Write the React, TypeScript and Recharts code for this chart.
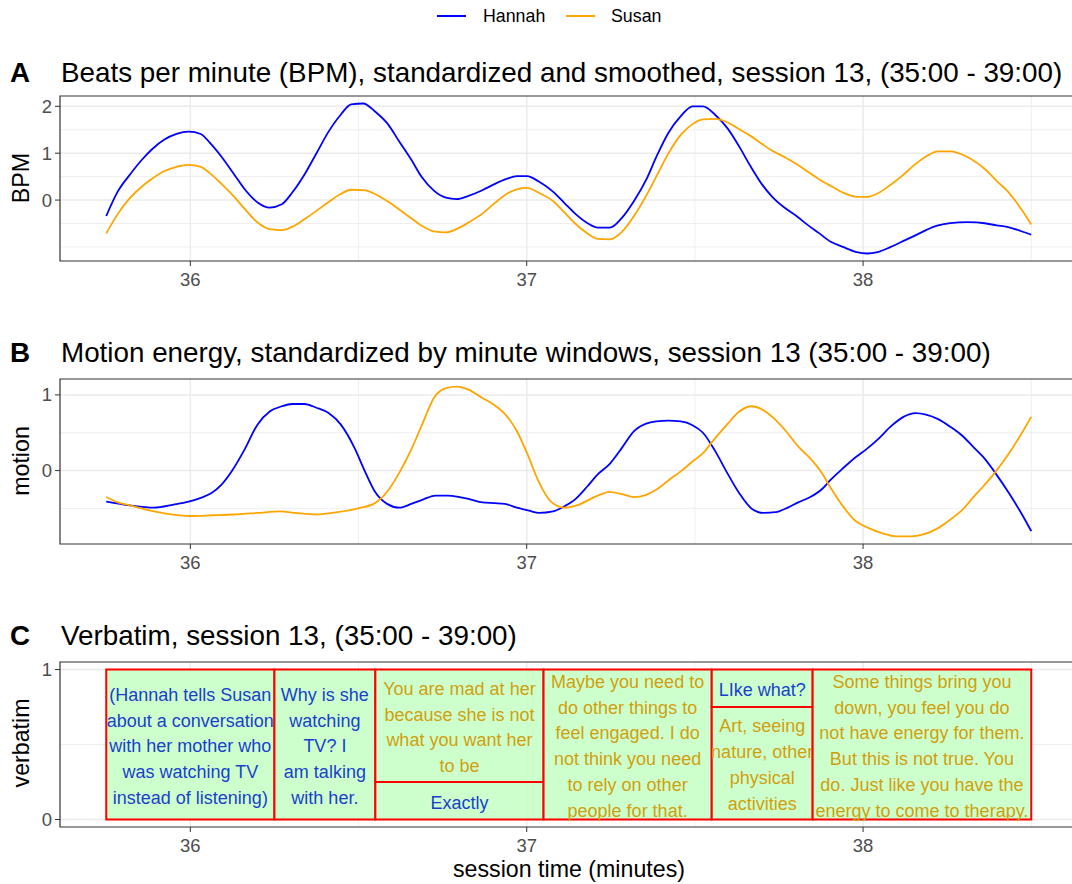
import { LineChart, Line, XAxis, YAxis, CartesianGrid, ReferenceArea } from "recharts";

const FONT = "'Liberation Sans', Arial, sans-serif";
const HANNAH = "#0000ff";
const SUSAN = "#ffa500";
const HANNAH_TEXT = "#1a3fcc";
const SUSAN_TEXT = "#d09f0e";

// shared x scale (minutes)
const X_DOMAIN: [number, number] = [35.6125, 38.6375];
const xTicks = [36, 37, 38];
const xMinor = [36.5, 37.5, 38.5];

// A: heart rate
const bpmTime = [
  35.75, 35.784, 35.82, 35.856, 35.887, 35.923, 35.959, 35.995, 36.031, 36.057,
  36.092, 36.134, 36.164, 36.2, 36.236, 36.272, 36.303, 36.339, 36.375, 36.411,
  36.447, 36.478, 36.514, 36.549, 36.585, 36.621, 36.657, 36.688, 36.724, 36.76,
  36.791, 36.827, 36.868, 36.904, 36.94, 36.971, 37.001, 37.037, 37.078, 37.113,
  37.144, 37.18, 37.211, 37.247, 37.283, 37.319, 37.355, 37.386, 37.421, 37.458,
  37.493, 37.524, 37.56, 37.596, 37.632, 37.663, 37.699, 37.73, 37.766, 37.802,
  37.837, 37.868, 37.904, 37.94, 37.981, 38.012, 38.043, 38.079, 38.115, 38.151,
  38.187, 38.223, 38.259, 38.31, 38.367, 38.397, 38.428, 38.469, 38.5,
];
const hannahBpm = [
  -0.34, 0.18, 0.54, 0.86, 1.09, 1.29, 1.41, 1.46, 1.41, 1.23,
  0.93, 0.51, 0.21, -0.05, -0.16, -0.09, 0.16, 0.54, 1.0, 1.46,
  1.82, 2.04, 2.06, 1.89, 1.64, 1.25, 0.86, 0.49, 0.2, 0.05,
  0.02, 0.09, 0.21, 0.34, 0.45, 0.51, 0.51, 0.39, 0.18, -0.07,
  -0.29, -0.49, -0.59, -0.59, -0.38, -0.02, 0.43, 0.93, 1.43, 1.79,
  2.0, 2.0, 1.82, 1.54, 1.14, 0.75, 0.34, 0.07, -0.16, -0.34,
  -0.54, -0.7, -0.89, -1.0, -1.11, -1.14, -1.11, -1.01, -0.89, -0.77,
  -0.64, -0.54, -0.49, -0.47, -0.5, -0.54, -0.57, -0.66, -0.74,
];
const susanBpm = [
  -0.71, -0.3, 0.04, 0.29, 0.46, 0.62, 0.71, 0.75, 0.71, 0.58,
  0.35, 0.04, -0.21, -0.48, -0.62, -0.64, -0.57, -0.41, -0.23, -0.04,
  0.13, 0.22, 0.21, 0.13, -0.02, -0.2, -0.39, -0.55, -0.67, -0.69,
  -0.62, -0.48, -0.29, -0.07, 0.13, 0.23, 0.26, 0.15, -0.02, -0.27,
  -0.5, -0.71, -0.83, -0.84, -0.68, -0.34, 0.09, 0.51, 0.99, 1.39,
  1.62, 1.72, 1.73, 1.66, 1.51, 1.38, 1.2, 1.05, 0.92, 0.77,
  0.6, 0.45, 0.3, 0.16, 0.07, 0.07, 0.14, 0.31, 0.51, 0.74,
  0.93, 1.04, 1.04, 0.92, 0.63, 0.41, 0.2, -0.18, -0.52,
];

// B: motion energy
const hannahMotionTime = [
  35.75, 35.82, 35.892, 35.95, 35.995, 36.031, 36.062, 36.092, 36.123, 36.159,
  36.2, 36.236, 36.272, 36.303, 36.339, 36.375, 36.411, 36.447, 36.488, 36.519,
  36.549, 36.585, 36.621, 36.657, 36.693, 36.729, 36.765, 36.801, 36.832, 36.868,
  36.904, 36.935, 36.971, 37.007, 37.037, 37.078, 37.113, 37.144, 37.18, 37.211,
  37.247, 37.283, 37.319, 37.355, 37.386, 37.421, 37.458, 37.493, 37.524, 37.56,
  37.596, 37.632, 37.668, 37.704, 37.74, 37.776, 37.807, 37.843, 37.879, 37.904,
  37.94, 37.976, 38.012, 38.048, 38.084, 38.12, 38.156, 38.187, 38.223, 38.259,
  38.295, 38.326, 38.357, 38.393, 38.434, 38.47, 38.5,
];
const hannahMotion = [
  -0.41, -0.46, -0.49, -0.45, -0.41, -0.36, -0.3, -0.19, -0.01, 0.26,
  0.61, 0.78, 0.85, 0.88, 0.88, 0.83, 0.76, 0.61, 0.3, -0.01,
  -0.28, -0.44, -0.49, -0.44, -0.38, -0.33, -0.33, -0.35, -0.38, -0.42,
  -0.43, -0.44, -0.49, -0.53, -0.56, -0.54, -0.47, -0.38, -0.21, -0.05,
  0.09, 0.3, 0.52, 0.62, 0.65, 0.66, 0.65, 0.6, 0.5, 0.26,
  -0.03, -0.3, -0.5, -0.56, -0.55, -0.49, -0.42, -0.35, -0.24, -0.12,
  0.03, 0.17, 0.29, 0.43, 0.59, 0.71, 0.76, 0.74, 0.68, 0.58,
  0.46, 0.32, 0.18, -0.03, -0.3, -0.56, -0.8,
];
const susanMotionTime = [
  35.75, 35.784, 35.82, 35.882, 35.944, 36.0, 36.067, 36.128, 36.2, 36.267,
  36.313, 36.375, 36.437, 36.498, 36.549, 36.585, 36.621, 36.657, 36.693, 36.724,
  36.76, 36.791, 36.827, 36.868, 36.899, 36.935, 36.971, 37.001, 37.037, 37.072,
  37.113, 37.149, 37.211, 37.247, 37.283, 37.319, 37.355, 37.386, 37.421, 37.458,
  37.493, 37.524, 37.555, 37.596, 37.632, 37.668, 37.699, 37.735, 37.771, 37.807,
  37.843, 37.874, 37.904, 37.94, 37.976, 38.017, 38.058, 38.099, 38.14, 38.182,
  38.223, 38.259, 38.295, 38.326, 38.357, 38.393, 38.434, 38.47, 38.5,
];
const susanMotion = [
  -0.35, -0.42, -0.46, -0.53, -0.58, -0.6, -0.59, -0.58, -0.56, -0.54,
  -0.56, -0.58, -0.55, -0.5, -0.43, -0.28, -0.03, 0.28, 0.65, 0.96,
  1.09, 1.11, 1.07, 0.96, 0.88, 0.75, 0.52, 0.23, -0.16, -0.41,
  -0.49, -0.46, -0.33, -0.28, -0.31, -0.35, -0.32, -0.25, -0.13, -0.01,
  0.12, 0.23, 0.4, 0.61, 0.78, 0.85, 0.81, 0.69, 0.52, 0.32,
  0.16, -0.01, -0.23, -0.47, -0.66, -0.76, -0.83, -0.87, -0.87, -0.84,
  -0.76, -0.65, -0.52, -0.36, -0.21, -0.02, 0.23, 0.48, 0.71,
];

// C: verbatim blocks
const verbatimStart = [35.75, 36.25, 36.55, 36.55, 37.05, 37.55, 37.55, 37.85];
const verbatimEnd = [36.25, 36.55, 37.05, 37.05, 37.55, 37.85, 37.85, 38.5];
const verbatimLow = [0, 0, 0.25, 0, 0, 0.75, 0, 0];
const verbatimHigh = [1, 1, 1, 0.25, 1, 1, 0.75, 1];
const verbatimSpeaker = ["Hannah", "Hannah", "Susan", "Hannah", "Susan", "Hannah", "Susan", "Susan"];
const verbatimText = [
  "(Hannah tells Susan\nabout a conversation\nwith her mother who\nwas watching TV\ninstead of listening)",
  "Why is she\nwatching\nTV? I\nam talking\nwith her.",
  "You are mad at her\nbecause she is not\nwhat you want her\nto be",
  "Exactly",
  "Maybe you need to\ndo other things to\nfeel engaged. I do\nnot think you need\nto rely on other\npeople for that.",
  "LIke what?",
  "Art, seeing\nnature, other\nphysical\nactivities",
  "Some things bring you\ndown, you feel you do\nnot have energy for them.\nBut this is not true. You\ndo. Just like you have the\nenergy to come to therapy.",
];

const toRows = (t: number[], v: number[]) => t.map((x, i) => ({ t: x, v: v[i] }));

const tickStyle = { fill: "#4d4d4d", fontSize: 18.5, fontFamily: FONT };

function BoxText(props: any) {
  const { viewBox, lines, color } = props;
  if (!viewBox) return null;
  const x = viewBox.x + viewBox.width / 2;
  const y0 = Math.min(viewBox.y, viewBox.y + viewBox.height);
  const cy = y0 + Math.abs(viewBox.height) / 2 + 1.5;
  const lh = 25.8;
  const top = cy - ((lines.length - 1) * lh) / 2;
  return (
    <text textAnchor="middle" fill={color} fontSize={18} fontFamily={FONT}>
      {lines.map((l: string, i: number) => (
        <tspan key={i} x={x} y={top + i * lh} dy="0.35em">
          {l}
        </tspan>
      ))}
    </text>
  );
}

function Panel(props: {
  top: number;
  yDomain: [number, number];
  yTicks: number[];
  yMinor: number[];
  children?: any;
}) {
  const { top, yDomain, yTicks, yMinor, children } = props;
  return (
    <div style={{ position: "absolute", left: 0, top }}>
      <LineChart width={1080} height={214} margin={{ top: 10, right: 2.5, bottom: 0, left: 0 }}>
        <CartesianGrid
          stroke="#ebebeb"
          strokeWidth={0.8}
          horizontalValues={yMinor}
          verticalValues={xMinor}
        />
        <CartesianGrid
          stroke="#ebebeb"
          strokeWidth={1.5}
          horizontalValues={yTicks}
          verticalValues={xTicks}
        />
        <XAxis
          type="number"
          dataKey="t"
          domain={X_DOMAIN}
          ticks={xTicks}
          allowDataOverflow
          axisLine={false}
          tickSize={5}
          tickMargin={7}
          tickLine={{ stroke: "#333333" }}
          tick={tickStyle}
          height={39}
        />
        <YAxis
          type="number"
          domain={yDomain}
          ticks={yTicks}
          allowDataOverflow
          axisLine={false}
          width={60}
          tickSize={5}
          tickMargin={3}
          tickLine={{ stroke: "#333333" }}
          tick={tickStyle}
        />
        {children}
        <ReferenceArea
          x1={X_DOMAIN[0]}
          x2={X_DOMAIN[1]}
          y1={yDomain[0]}
          y2={yDomain[1]}
          fill="none"
          stroke="#333333"
          strokeWidth={1.2}
          ifOverflow="visible"
        />
      </LineChart>
    </div>
  );
}

export default function App() {
  return (
    <div
      style={{
        position: "absolute",
        left: 0,
        top: 0,
        width: 1072,
        height: 884,
        overflow: "hidden",
        background: "#ffffff",
        fontFamily: FONT,
      }}
    >
      <Panel top={86} yDomain={[-1.3, 2.22]} yTicks={[0, 1, 2]} yMinor={[-1, -0.5, 0.5, 1.5]}>
        <Line
          data={toRows(bpmTime, hannahBpm)}
          dataKey="v"
          type="monotone"
          stroke={HANNAH}
          strokeWidth={1.8}
          dot={false}
          isAnimationActive={false}
        />
        <Line
          data={toRows(bpmTime, susanBpm)}
          dataKey="v"
          type="monotone"
          stroke={SUSAN}
          strokeWidth={1.8}
          dot={false}
          isAnimationActive={false}
        />
      </Panel>

      <Panel top={369} yDomain={[-0.97, 1.21]} yTicks={[0, 1]} yMinor={[-0.5, 0.5]}>
        <Line
          data={toRows(hannahMotionTime, hannahMotion)}
          dataKey="v"
          type="monotone"
          stroke={HANNAH}
          strokeWidth={1.8}
          dot={false}
          isAnimationActive={false}
        />
        <Line
          data={toRows(susanMotionTime, susanMotion)}
          dataKey="v"
          type="monotone"
          stroke={SUSAN}
          strokeWidth={1.8}
          dot={false}
          isAnimationActive={false}
        />
      </Panel>

      <Panel top={652} yDomain={[-0.05, 1.05]} yTicks={[0, 1]} yMinor={[0.5]}>
        {verbatimText.map((txt, i) => (
          <ReferenceArea
            key={"vb" + i}
            x1={verbatimStart[i]}
            x2={verbatimEnd[i]}
            y1={verbatimLow[i]}
            y2={verbatimHigh[i]}
            fill="#c8ffc8"
            fillOpacity={0.9}
            stroke="#ff0000"
            strokeWidth={2}
            ifOverflow="visible"
            label={
              <BoxText
                lines={txt.split("\n")}
                color={verbatimSpeaker[i] === "Hannah" ? HANNAH_TEXT : SUSAN_TEXT}
              />
            }
          />
        ))}
      </Panel>

      <svg
        width={1072}
        height={884}
        style={{ position: "absolute", left: 0, top: 0, pointerEvents: "none" }}
        fontFamily={FONT}
      >
        {/* legend */}
        <line x1={437} x2={466} y1={16} y2={16} stroke={HANNAH} strokeWidth={2} />
        <text x={483} y={16} dominantBaseline="central" fontSize={17.8} fill="#000">
          Hannah
        </text>
        <line x1={566} x2={595} y1={16} y2={16} stroke={SUSAN} strokeWidth={2} />
        <text x={611} y={16} dominantBaseline="central" fontSize={17.8} fill="#000">
          Susan
        </text>

        {/* panel titles */}
        <text x={10} y={72} dominantBaseline="central" fontSize={27.8} fontWeight="bold">
          A
        </text>
        <text x={61} y={72} dominantBaseline="central" fontSize={27.8}>
          Beats per minute (BPM), standardized and smoothed, session 13, (35:00 - 39:00)
        </text>
        <text x={10} y={352} dominantBaseline="central" fontSize={27.8} fontWeight="bold">
          B
        </text>
        <text x={61} y={352} dominantBaseline="central" fontSize={27.8}>
          Motion energy, standardized by minute windows, session 13 (35:00 - 39:00)
        </text>
        <text x={10} y={635} dominantBaseline="central" fontSize={27.8} fontWeight="bold">
          C
        </text>
        <text x={61} y={635} dominantBaseline="central" fontSize={27.8}>
          Verbatim, session 13, (35:00 - 39:00)
        </text>

        {/* axis titles */}
        <text transform="translate(21,178) rotate(-90)" textAnchor="middle" dominantBaseline="central" fontSize={23.2}>
          BPM
        </text>
        <text transform="translate(21,461) rotate(-90)" textAnchor="middle" dominantBaseline="central" fontSize={23.2}>
          motion
        </text>
        <text transform="translate(21,743) rotate(-90)" textAnchor="middle" dominantBaseline="central" fontSize={23.2}>
          verbatim
        </text>
        <text x={569} y={869} textAnchor="middle" dominantBaseline="central" fontSize={23.2}>
          session time (minutes)
        </text>
      </svg>
    </div>
  );
}
